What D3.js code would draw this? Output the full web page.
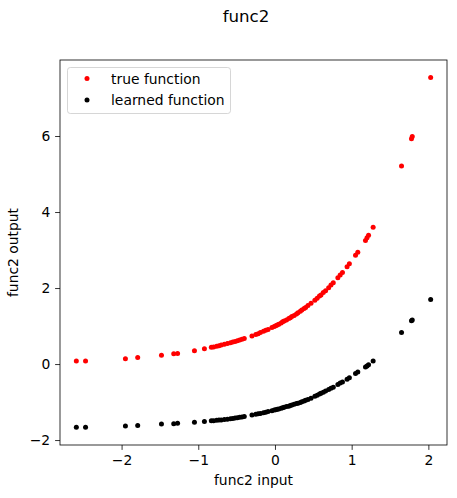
<!DOCTYPE html>
<html>
<head>
<meta charset="utf-8">
<script src="https://cdn.jsdelivr.net/npm/d3@7"></script>
<style>
  html, body { margin: 0; padding: 0; background: #fff; }
  svg { display: block; font-family: "DejaVu Sans", sans-serif; }
</style>
</head>
<body>
<svg id="chart" width="457" height="498"></svg>
<script>
// ---- data ----
const title = "func2";
const xLabel = "func2 input";
const yLabel = "func2 output";
const seriesNames = ["true function", "learned function"];
const seriesColors = ["#ff0000", "#000000"];
const xTicks = [-2, -1, 0, 1, 2];
const yTicks = [-2, 0, 2, 4, 6];

const inputs = [
  -2.59, -2.47, -1.95, -1.79, -1.48, -1.32, -1.27, -1.05, -0.92, -0.83,
  -0.80, -0.76, -0.73, -0.70, -0.66, -0.62, -0.58, -0.55, -0.52, -0.49,
  -0.46, -0.43, -0.40, -0.30, -0.25, -0.22, -0.19, -0.15, -0.12, -0.09,
  -0.04, -0.01, 0.01, 0.03, 0.05, 0.08, 0.10, 0.12, 0.15, 0.18,
  0.20, 0.22, 0.25, 0.28, 0.30, 0.33, 0.35, 0.38, 0.40, 0.43,
  0.47, 0.52, 0.55, 0.58, 0.60, 0.63, 0.66, 0.70, 0.73, 0.76,
  0.82, 0.85, 0.88, 0.94, 0.97, 1.05, 1.08, 1.18, 1.20, 1.22,
  1.28, 1.65, 1.78, 1.79, 2.03
];
const trueOutputs = [
  0.08, 0.08, 0.14, 0.17, 0.23, 0.27, 0.28, 0.35, 0.40, 0.44,
  0.45, 0.47, 0.48, 0.50, 0.52, 0.54, 0.56, 0.58, 0.59, 0.61,
  0.63, 0.65, 0.67, 0.74, 0.78, 0.80, 0.83, 0.86, 0.89, 0.91,
  0.96, 0.99, 1.01, 1.03, 1.05, 1.08, 1.11, 1.13, 1.16, 1.20,
  1.22, 1.25, 1.28, 1.32, 1.35, 1.39, 1.42, 1.46, 1.49, 1.54,
  1.60, 1.68, 1.73, 1.79, 1.82, 1.88, 1.93, 2.01, 2.08, 2.14,
  2.27, 2.34, 2.41, 2.56, 2.64, 2.86, 2.94, 3.25, 3.32, 3.39,
  3.60, 5.21, 5.93, 5.99, 7.54
];
const learnedOutputs = [
  -1.66, -1.66, -1.63, -1.62, -1.58, -1.57, -1.56, -1.53, -1.51, -1.49,
  -1.49, -1.48, -1.47, -1.47, -1.46, -1.45, -1.44, -1.43, -1.42, -1.41,
  -1.40, -1.39, -1.38, -1.34, -1.32, -1.31, -1.30, -1.28, -1.27, -1.25,
  -1.23, -1.21, -1.20, -1.19, -1.18, -1.16, -1.15, -1.14, -1.12, -1.11,
  -1.09, -1.08, -1.06, -1.04, -1.03, -1.01, -0.99, -0.97, -0.95, -0.93,
  -0.90, -0.85, -0.82, -0.79, -0.77, -0.74, -0.71, -0.67, -0.64, -0.61,
  -0.54, -0.50, -0.47, -0.40, -0.36, -0.25, -0.21, -0.08, -0.05, -0.02,
  0.08, 0.83, 1.14, 1.16, 1.70
];
const series = [trueOutputs, learnedOutputs];

// ---- layout ----
const svg = d3.select("#chart");
const L = 60, R = 447, T = 60, B = 445;
const x = d3.scaleLinear().domain([-2.803, 2.243]).range([L, R]);
const y = d3.scaleLinear().domain([-2.13, 8.0]).range([B, T]);
const fmt = d3.format("d");

// title
svg.append("text").attr("x", 246).attr("y", 22)
  .attr("text-anchor", "middle").attr("font-size", "16.67px").attr("fill", "#000")
  .text(title);

// points
series.forEach((vals, si) => {
  svg.append("g").selectAll("circle")
    .data(inputs.map((v, i) => [v, vals[i]]))
    .join("circle")
    .attr("cx", d => x(d[0])).attr("cy", d => y(d[1]))
    .attr("r", 2.5).attr("fill", seriesColors[si]);
});

// axes
const xAxis = svg.append("g").attr("transform", `translate(0,${B})`)
  .call(d3.axisBottom(x).tickValues(xTicks).tickFormat(fmt).tickSize(4.9).tickPadding(4.9).tickSizeOuter(0));
const yAxis = svg.append("g").attr("transform", `translate(${L},0)`)
  .call(d3.axisLeft(y).tickValues(yTicks).tickFormat(fmt).tickSize(4.9).tickPadding(4.9).tickSizeOuter(0));
[xAxis, yAxis].forEach(a => {
  a.select(".domain").remove();
  a.selectAll("line").attr("stroke", "#000").attr("stroke-width", 0.8);
  a.selectAll("text").attr("font-size", "13.89px").attr("fill", "#000")
    .attr("font-family", "DejaVu Sans, sans-serif");
});

// frame
svg.append("rect").attr("x", L).attr("y", T).attr("width", R - L).attr("height", B - T)
  .attr("fill", "none").attr("stroke", "#000").attr("stroke-width", 0.8);

// axis labels
svg.append("text").attr("x", (L + R) / 2).attr("y", 485)
  .attr("text-anchor", "middle").attr("font-size", "13.89px").attr("fill", "#000")
  .text(xLabel);
svg.append("text").attr("transform", `translate(18,${(T + B) / 2}) rotate(-90)`)
  .attr("text-anchor", "middle").attr("font-size", "13.89px").attr("fill", "#000")
  .text(yLabel);

// legend
const lg = svg.append("g");
lg.append("rect").attr("x", 67.5).attr("y", 67.5).attr("width", 163).attr("height", 46)
  .attr("rx", 2.8).attr("fill", "#fff").attr("fill-opacity", 0.8)
  .attr("stroke", "#cccccc").attr("stroke-width", 0.8);
seriesNames.forEach((name, i) => {
  const cy = 78.5 + i * 21.5;
  lg.append("circle").attr("cx", 87).attr("cy", cy).attr("r", 2.5).attr("fill", seriesColors[i]);
  lg.append("text").attr("x", 111).attr("y", cy + 5).attr("font-size", "13.89px")
    .attr("fill", "#000").text(name);
});
</script>
</body>
</html>
